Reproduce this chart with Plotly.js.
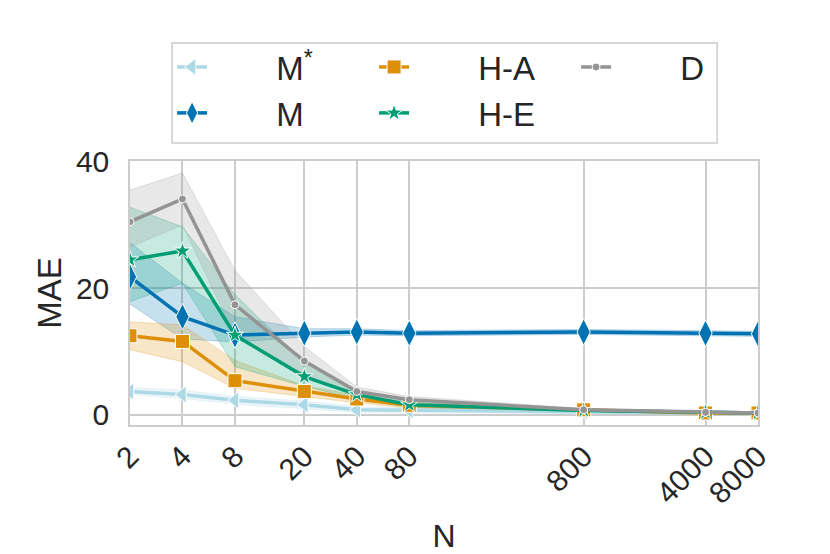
<!DOCTYPE html>
<html>
<head>
<meta charset="utf-8">
<script src="https://cdn.plot.ly/plotly-3.0.1.min.js"></script>
<style>
  body { margin: 0; background: #fff; }
  #chart { width: 830px; height: 554px; }
</style>
</head>
<body>
<div id="chart"></div>
<script>
// sample sizes on the x axis
var N = [2, 4, 8, 20, 40, 80, 800, 4000, 8000];
var tickLabels = ['2', '4', '8', '20', '40', '80', '800', '4000', '8000'];

// mean MAE per method, with band low / high
var mStar = [3.7, 3.2, 2.3, 1.6, 0.8, 0.7, 0.5, 0.3, 0.3];
var mStarLo = [3.2, 2.6, 1.7, 1.0, 0.4, 0.3, 0.2, 0.1, 0.1];
var mStarHi = [4.3, 3.9, 2.9, 2.2, 1.3, 1.1, 0.8, 0.5, 0.5];

var m = [21.8, 15.5, 12.6, 12.9, 13.1, 12.9, 13.1, 12.9, 12.8];
var mLo = [17.5, 12.0, 11.5, 12.3, 12.6, 12.5, 12.7, 12.5, 12.4];
var mHi = [27.2, 20.8, 15.5, 13.6, 13.6, 13.3, 13.5, 13.3, 13.2];

var hA = [12.5, 11.6, 5.4, 3.7, 2.5, 1.5, 0.8, 0.3, 0.3];
var hALo = [10.3, 8.4, 4.2, 2.9, 1.9, 1.1, 0.6, 0.2, 0.2];
var hAHi = [14.7, 14.2, 8.6, 4.6, 3.1, 1.9, 1.0, 0.5, 0.5];

var hE = [24.5, 25.9, 12.6, 6.05, 3.2, 1.6, 0.7, 0.4, 0.3];
var hELo = [17.9, 20.8, 7.6, 4.5, 2.5, 1.2, 0.5, 0.2, 0.2];
var hEHi = [32.8, 29.7, 19.0, 8.3, 3.9, 2.0, 0.9, 0.6, 0.5];

var d = [30.5, 34.1, 17.4, 8.5, 3.7, 2.4, 0.8, 0.4, 0.3];
var dLo = [26.5, 30.0, 12.5, 6.3, 3.0, 2.0, 0.6, 0.2, 0.2];
var dHi = [35.5, 38.2, 22.8, 10.8, 4.4, 2.9, 1.0, 0.6, 0.5];

// push legend text right, matplotlib handles are longer than plotly's
var pad = '&nbsp;&nbsp;&nbsp;&nbsp;&nbsp;&nbsp;&nbsp;';

var series = [
  {name: 'M<sup>*</sup>', y: mStar, lo: mStarLo, hi: mStarHi, rgb: '173,216,230', symbol: 'triangle-left', size: 15, rank: 1},
  {name: 'M', y: m, lo: mLo, hi: mHi, rgb: '1,115,178', symbol: 'diamond-tall', size: 19, rank: 4},
  {name: 'H-A', y: hA, lo: hALo, hi: hAHi, rgb: '222,143,5', symbol: 'square', size: 14, rank: 2},
  {name: 'H-E', y: hE, lo: hELo, hi: hEHi, rgb: '2,158,115', symbol: 'star', size: 13, rank: 5},
  {name: 'D', y: d, lo: dLo, hi: dHi, rgb: '148,148,148', symbol: 'circle', size: 8, rank: 3}
];

var data = [];

// bands first so the lines sit on top
for (var i = 0; i < series.length; i++) {
  var s = series[i];
  data.push({
    x: N, y: s.lo, type: 'scatter', mode: 'lines',
    line: {color: 'rgba(' + s.rgb + ',0.25)', width: 1},
    showlegend: false, hoverinfo: 'skip'
  });
  data.push({
    x: N, y: s.hi, type: 'scatter', mode: 'lines', fill: 'tonexty',
    fillcolor: 'rgba(' + s.rgb + ',0.22)',
    line: {color: 'rgba(' + s.rgb + ',0.25)', width: 1},
    showlegend: false, hoverinfo: 'skip'
  });
}

for (var i = 0; i < series.length; i++) {
  var s = series[i];
  data.push({
    x: N, y: s.y, name: pad + s.name, type: 'scatter', mode: 'lines+markers',
    legendrank: s.rank,
    line: {color: 'rgb(' + s.rgb + ')', width: 3.5},
    marker: {symbol: s.symbol, size: s.size, color: 'rgb(' + s.rgb + ')',
             line: {color: '#ffffff', width: 1}}
  });
}

var grid = '#cccccc';

var layout = {
  width: 830,
  height: 554,
  margin: {l: 130, r: 72, t: 161, b: 129},
  paper_bgcolor: '#ffffff',
  plot_bgcolor: '#ffffff',
  font: {family: 'Liberation Sans, Arial, sans-serif', color: '#262626', size: 30},
  showlegend: true,
  legend: {
    orientation: 'h',
    traceorder: 'normal',
    x: 0.067, y: 1.462, xanchor: 'left', yanchor: 'top',
    bgcolor: 'rgba(0,0,0,0)', borderwidth: 0,
    font: {size: 33, color: '#262626'},
    entrywidth: 157
  },
  // legend frame drawn as a shape so it can be narrower than plotly's box
  shapes: [{
    type: 'rect', xref: 'paper', yref: 'paper', layer: 'below',
    x0: 0.067, x1: 0.935, y0: 1.068, y1: 1.447,
    line: {color: grid, width: 1.5}, fillcolor: '#ffffff'
  }],
  xaxis: {
    type: 'log',
    range: [Math.log10(2), Math.log10(8000)],
    tickvals: N,
    ticktext: tickLabels,
    tickangle: -45,
    tickfont: {size: 30},
    showgrid: true, gridcolor: grid, gridwidth: 1.5,
    showline: true, linecolor: grid, linewidth: 1.5, mirror: true,
    zeroline: false, ticks: '',
    title: {text: 'N', font: {size: 32}, standoff: 18}
  },
  yaxis: {
    range: [-1.6, 40.1],
    tickvals: [0, 20, 40],
    tickfont: {size: 30},
    ticklabelstandoff: 13,
    showgrid: true, gridcolor: grid, gridwidth: 1.5,
    showline: true, linecolor: grid, linewidth: 1.5, mirror: true,
    zeroline: false, ticks: '',
    title: {text: 'MAE', font: {size: 33}, standoff: 4}
  }
};

Plotly.newPlot('chart', data, layout, {displayModeBar: false});
</script>
</body>
</html>
